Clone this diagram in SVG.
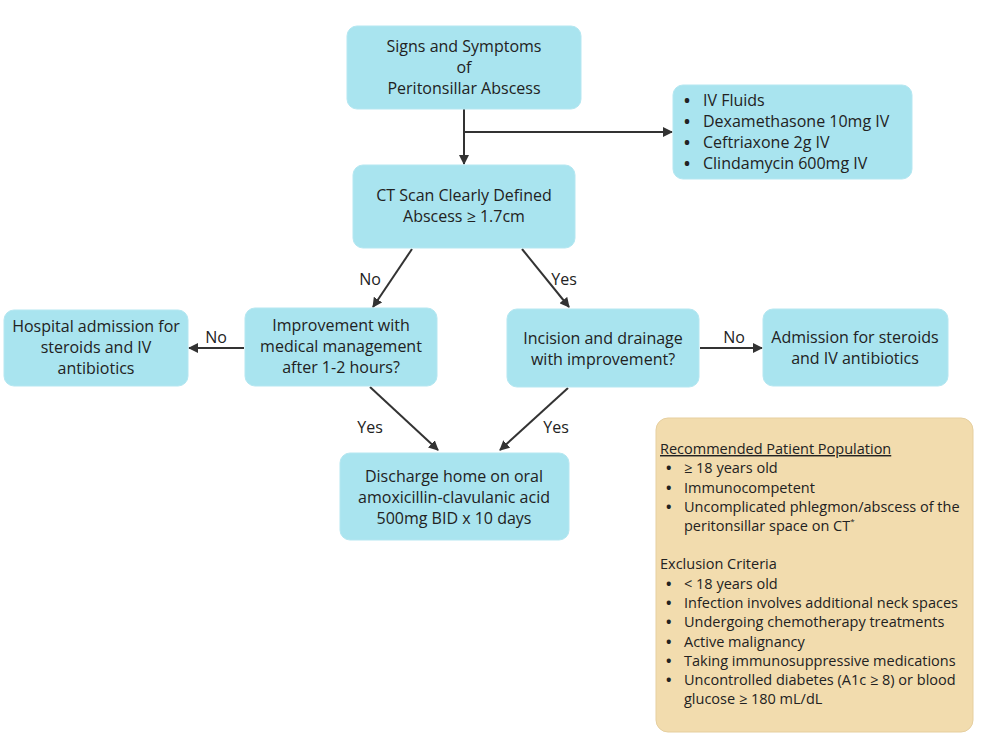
<svg xmlns="http://www.w3.org/2000/svg" width="986" height="740" viewBox="0 0 986 740">
<defs>
<marker id="ah" viewBox="0 0 10 10" refX="9" refY="5" markerWidth="5" markerHeight="5" orient="auto" markerUnits="strokeWidth">
<path d="M0,0 L10,5 L0,10 z" fill="#333"/>
</marker>
<style>
.box{fill:#a9e4ef;stroke:#b5e7f1;stroke-width:1}
.tan{fill:#f2dcae;stroke:#e6cf9f;stroke-width:1}
text{font-family:"Open Sans","Noto Sans",sans-serif;fill:#222;font-size:16px}
.c{text-anchor:middle}
.s{font-size:14.5px}
.b{font-weight:bold}
.ln{stroke:#333;stroke-width:2;fill:none;marker-end:url(#ah)}
</style>
</defs>
<rect width="986" height="740" fill="#fff"/>
<g id="connectors">
<line class="ln" x1="464" y1="109" x2="464" y2="164"/>
<line class="ln" x1="464" y1="132" x2="672" y2="132"/>
<line class="ln" x1="412" y1="249" x2="373" y2="307"/>
<line class="ln" x1="522" y1="249" x2="569" y2="307"/>
<line class="ln" x1="244" y1="348" x2="189" y2="348"/>
<line class="ln" x1="700" y1="348" x2="762" y2="348"/>
<line class="ln" x1="370" y1="387" x2="438" y2="450"/>
<line class="ln" x1="568" y1="388" x2="500" y2="450"/>
<text x="370" y="285" class="c">No</text>
<text x="564" y="285" class="c">Yes</text>
<text x="216" y="343" class="c">No</text>
<text x="734" y="343" class="c">No</text>
<text x="370" y="433" class="c">Yes</text>
<text x="556" y="433" class="c">Yes</text>
</g>
<g id="signs">
<rect class="box" x="347" y="26" width="234" height="83" rx="10"/>
<text x="464" y="52" class="c">Signs and Symptoms</text>
<text x="464" y="73" class="c">of</text>
<text x="464" y="94" class="c">Peritonsillar Abscess</text>
</g>
<g id="meds">
<rect class="box" x="673" y="85" width="239" height="94" rx="10"/>
<text x="684" y="106"><tspan class="b">•</tspan><tspan x="703">IV Fluids</tspan></text>
<text x="684" y="127"><tspan class="b">•</tspan><tspan x="703">Dexamethasone 10mg IV</tspan></text>
<text x="684" y="148"><tspan class="b">•</tspan><tspan x="703">Ceftriaxone 2g IV</tspan></text>
<text x="684" y="169"><tspan class="b">•</tspan><tspan x="703">Clindamycin 600mg IV</tspan></text>
</g>
<g id="ct">
<rect class="box" x="353" y="165" width="222" height="83" rx="10"/>
<text x="464" y="201" class="c">CT Scan Clearly Defined</text>
<text x="464" y="222" class="c">Abscess ≥ 1.7cm</text>
</g>
<g id="hospital">
<rect class="box" x="4" y="310" width="184" height="76" rx="10"/>
<text x="96" y="332" class="c">Hospital admission for</text>
<text x="96" y="353" class="c">steroids and IV</text>
<text x="96" y="374" class="c">antibiotics</text>
</g>
<g id="improvement">
<rect class="box" x="245" y="308" width="192" height="78" rx="10"/>
<text x="341" y="331" class="c">Improvement with</text>
<text x="341" y="352" class="c">medical management</text>
<text x="341" y="373" class="c">after 1-2 hours?</text>
</g>
<g id="incision">
<rect class="box" x="507" y="309" width="192" height="78" rx="10"/>
<text x="603" y="344" class="c">Incision and drainage</text>
<text x="603" y="365" class="c">with improvement?</text>
</g>
<g id="admission">
<rect class="box" x="763" y="309" width="185" height="77" rx="10"/>
<text x="855" y="343" class="c">Admission for steroids</text>
<text x="855" y="364" class="c">and IV antibiotics</text>
</g>
<g id="discharge">
<rect class="box" x="340" y="453" width="229" height="87" rx="10"/>
<text x="454" y="482" class="c">Discharge home on oral</text>
<text x="454" y="503" class="c">amoxicillin-clavulanic acid</text>
<text x="454" y="524" class="c">500mg BID x 10 days</text>
</g>
<g id="criteria">
<rect class="tan" x="656" y="418" width="317" height="314" rx="12"/>
<text x="660" y="454" class="s" text-decoration="underline">Recommended Patient Population</text>
<text x="666" y="473" class="s"><tspan class="b">•</tspan><tspan x="684">≥ 18 years old</tspan></text>
<text x="666" y="493" class="s"><tspan class="b">•</tspan><tspan x="684">Immunocompetent</tspan></text>
<text x="666" y="512" class="s"><tspan class="b">•</tspan><tspan x="684">Uncomplicated phlegmon/abscess of the</tspan></text>
<text x="684" y="531" class="s">peritonsillar space on CT<tspan font-size="8" dy="-7">*</tspan></text>
<text x="660" y="569" class="s">Exclusion Criteria</text>
<text x="666" y="589" class="s"><tspan class="b">•</tspan><tspan x="684">&lt; 18 years old</tspan></text>
<text x="666" y="608" class="s"><tspan class="b">•</tspan><tspan x="684">Infection involves additional neck spaces</tspan></text>
<text x="666" y="627" class="s"><tspan class="b">•</tspan><tspan x="684">Undergoing chemotherapy treatments</tspan></text>
<text x="666" y="647" class="s"><tspan class="b">•</tspan><tspan x="684">Active malignancy</tspan></text>
<text x="666" y="666" class="s"><tspan class="b">•</tspan><tspan x="684">Taking immunosuppressive medications</tspan></text>
<text x="666" y="685" class="s"><tspan class="b">•</tspan><tspan x="684">Uncontrolled diabetes (A1c ≥ 8) or blood</tspan></text>
<text x="684" y="704" class="s">glucose ≥ 180 mL/dL</text>
</g>
</svg>
